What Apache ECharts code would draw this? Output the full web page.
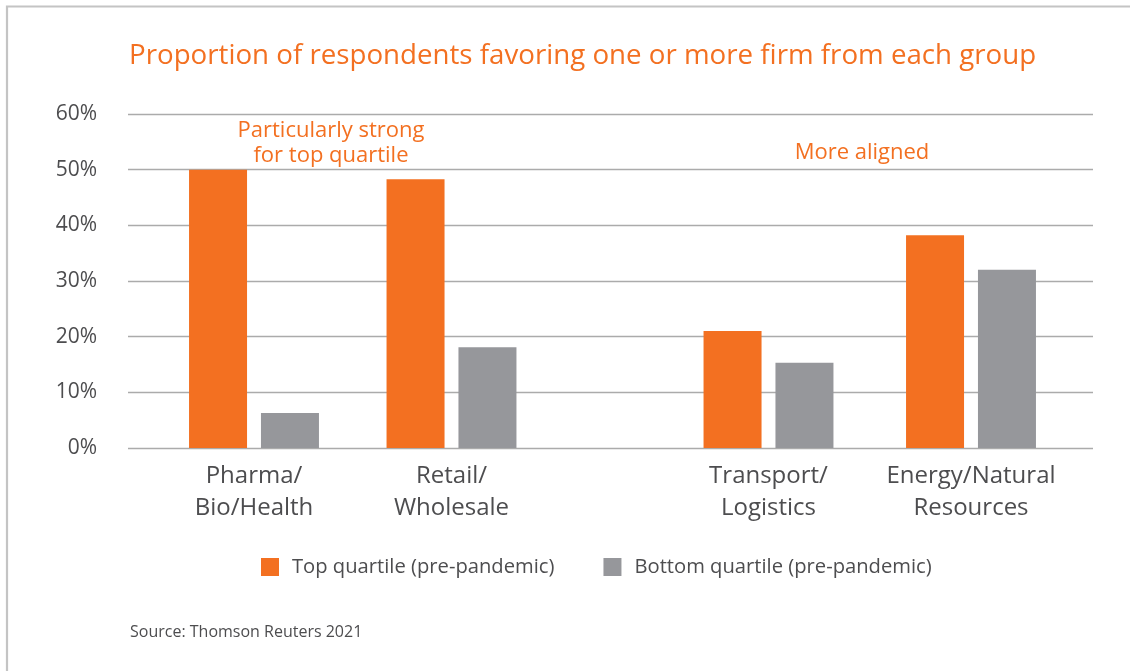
<!DOCTYPE html>
<html>
<head>
<meta charset="utf-8">
<script src="https://cdn.jsdelivr.net/npm/echarts@6/dist/echarts.min.js"></script>
<style>
  html, body { margin: 0; padding: 0; background: #ffffff; }
  #chart { width: 1130px; height: 671px; }
</style>
</head>
<body>
<div id="chart"></div>
<script>
// Sector groups (left pair and right pair are set apart)
const categories = ['Pharma/\nBio/Health', 'Retail/\nWholesale', 'Transport/\nLogistics', 'Energy/Natural\nResources'];
const topQuartile = [50.0, 48.3, 21.0, 38.2];
const bottomQuartile = [6.3, 18.1, 15.3, 32.0];
const seriesNames = ['Top quartile (pre-pandemic)', 'Bottom quartile (pre-pandemic)'];
const yTicks = { min: 0, max: 60, interval: 10 };

const ORANGE = '#F37021';
const GREY = '#96979B';
const TEXT = '#4D4D4F';
const FONT = '"Open Sans", "Noto Sans", sans-serif';

const chart = echarts.init(document.getElementById('chart'), null, { renderer: 'canvas' });

const plotTop = 114, plotBottom = 671 - 448;

function valueAxis(gridIndex, visible) {
  return {
    type: 'value', gridIndex, min: yTicks.min, max: yTicks.max, interval: yTicks.interval,
    show: visible,
    axisLine: { show: false }, axisTick: { show: false },
    axisLabel: { show: visible, formatter: '{value}%', fontFamily: FONT, fontSize: 21, color: TEXT, margin: 31 },
    splitLine: { show: visible, lineStyle: { color: '#ABABAB', width: 1.4 } }
  };
}

function categoryAxis(gridIndex, labels) {
  return {
    type: 'category', gridIndex, data: labels,
    axisLine: { show: false }, axisTick: { show: false },
    axisLabel: { fontFamily: FONT, fontSize: 24, color: TEXT, lineHeight: 32, margin: 12, interval: 0 }
  };
}

function barSeries(name, color, values, axisIndex) {
  return {
    type: 'bar', name, data: values,
    xAxisIndex: axisIndex, yAxisIndex: axisIndex,
    barWidth: 58, barGap: '24%',
    itemStyle: { color },
    emphasis: { disabled: true }
  };
}

const leftCats = categories.slice(0, 2), rightCats = categories.slice(2);

chart.setOption({
  animation: false,
  title: {
    text: 'Proportion of respondents favoring one or more firm from each group',
    left: 129, top: 38, padding: 0,
    textStyle: { fontFamily: FONT, fontSize: 27.7, fontWeight: 'normal', color: ORANGE, lineHeight: 36 }
  },
  legend: {
    data: seriesNames,
    left: 261, top: 557, padding: 0,
    icon: 'rect', itemWidth: 18, itemHeight: 18, itemGap: 49,
    textStyle: { fontFamily: FONT, fontSize: 20.2, color: TEXT, padding: [0, 0, 0, 8] },
    selectedMode: false
  },
  grid: [
    { left: 128, right: 1130 - 1093, top: plotTop, bottom: plotBottom },
    { left: 155.25, right: 1130 - 550.25, top: plotTop, bottom: plotBottom },
    { left: 667.25, right: 1130 - 1072.25, top: plotTop, bottom: plotBottom }
  ],
  xAxis: [
    { type: 'category', gridIndex: 0, data: [''], show: false },
    categoryAxis(1, leftCats),
    categoryAxis(2, rightCats)
  ],
  yAxis: [valueAxis(0, true), valueAxis(1, false), valueAxis(2, false)],
  series: [
    barSeries(seriesNames[0], ORANGE, topQuartile.slice(0, 2), 1),
    barSeries(seriesNames[1], GREY, bottomQuartile.slice(0, 2), 1),
    barSeries(seriesNames[0], ORANGE, topQuartile.slice(2), 2),
    barSeries(seriesNames[1], GREY, bottomQuartile.slice(2), 2)
  ],
  graphic: [
    // frame along the top and left edges
    { type: 'polyline', silent: true, z: 0,
      shape: { points: [[7, 671], [7, 6.5], [1130, 6.5]] },
      style: { stroke: '#C4C4C4', lineWidth: 2.2, fill: null } },
    { type: 'text', silent: true,
      x: 331, y: 118,
      style: { text: 'Particularly strong\nfor top quartile', font: '22px ' + FONT, fill: ORANGE,
               align: 'center', verticalAlign: 'top', lineHeight: 25 } },
    { type: 'text', silent: true,
      x: 862, y: 140,
      style: { text: 'More aligned', font: '22px ' + FONT, fill: ORANGE,
               align: 'center', verticalAlign: 'top', lineHeight: 25 } },
    { type: 'text', silent: true,
      x: 130, y: 622,
      style: { text: 'Source: Thomson Reuters 2021', font: '16px ' + FONT, fill: TEXT,
               align: 'left', verticalAlign: 'top', lineHeight: 20 } }
  ]
});
</script>
</body>
</html>
